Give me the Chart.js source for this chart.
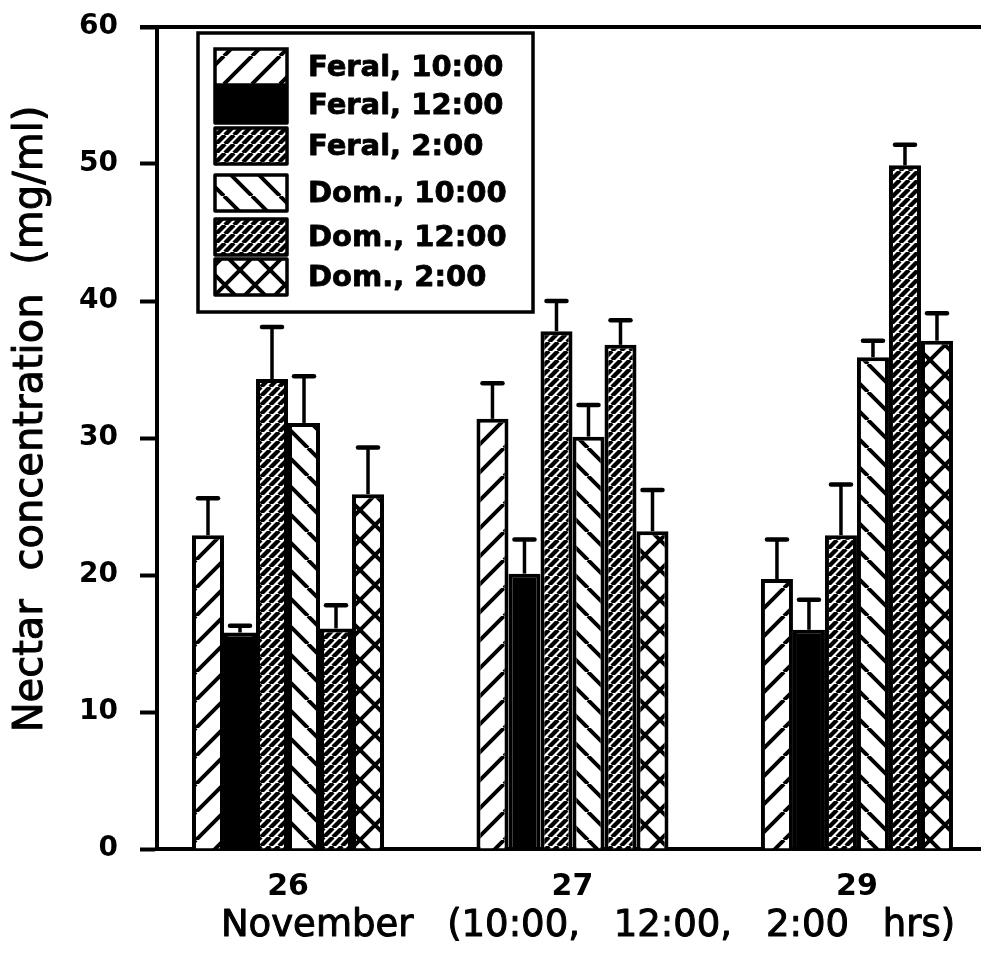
<!DOCTYPE html>
<html>
<head>
<meta charset="utf-8">
<title>Nectar concentration</title>
<script src="https://cdn.jsdelivr.net/npm/chart.js@4.4.1/dist/chart.umd.min.js"></script>
<style>
  html, body { margin: 0; padding: 0; background: #fff; overflow: hidden; }
  #wrap { width: 981px; height: 953px; position: relative; }
</style>
</head>
<body>
<div id="wrap"><canvas id="chart"></canvas></div>
<script>
// Values (mean and upper error bar length)
const dates = ['26', '27', '29'];
const seriesLabels = ['Feral, 10:00', 'Feral, 12:00', 'Feral, 2:00', 'Dom., 10:00', 'Dom., 12:00', 'Dom., 2:00'];

const feral10 = [22.9, 31.4, 19.7];
const feral12 = [15.8, 20.1, 16.0];
const feral2 = [34.3, 37.8, 22.9];
const dom10 = [31.1, 30.1, 35.9];
const dom12 = [16.1, 36.8, 49.9];
const dom2 = [25.9, 23.2, 37.1];

const feral10Err = [2.7, 2.6, 2.9];
const feral12Err = [0.5, 2.5, 2.2];
const feral2Err = [3.8, 2.2, 3.7];
const dom10Err = [3.4, 2.3, 1.2];
const dom12Err = [1.7, 1.8, 1.5];
const dom2Err = [3.4, 3.0, 2.0];

const yTicks = [0, 10, 20, 30, 40, 50, 60];

const FONT = '"DejaVu Sans", sans-serif';

// hatch fills, drawn into a small tile
function makePattern(kind) {
    if (kind === 'solid') return '#000';
    const s = kind === 'dense' ? 9 : (kind === 'cross' ? 30 : 28);
    const c = document.createElement('canvas');
    c.width = s; c.height = s;
    const ctx = c.getContext('2d');
    ctx.fillStyle = '#fff';
    ctx.fillRect(0, 0, s, s);
    ctx.strokeStyle = '#000';
    ctx.lineWidth = kind === 'dense' ? 4.3 : 4;
    const fwd = kind === 'fwd' || kind === 'dense' || kind === 'cross';
    const back = kind === 'back' || kind === 'cross';
    ctx.beginPath();
    for (let k = -1; k <= 1; k++) {
        if (fwd) { ctx.moveTo(k * s, s); ctx.lineTo(k * s + s, 0); }
        if (back) { ctx.moveTo(k * s, 0); ctx.lineTo(k * s + s, s); }
    }
    ctx.stroke();
    return ctx.createPattern(c, 'repeat');
}

const series = [feral10, feral12, feral2, dom10, dom12, dom2];
const errors = [feral10Err, feral12Err, feral2Err, dom10Err, dom12Err, dom2Err];
const fills = ['fwd', 'solid', 'dense', 'back', 'dense', 'cross'].map(makePattern);

const datasets = series.map((vals, i) => ({
    label: seriesLabels[i],
    data: vals.map((v, j) => ({ x: j, y: v })),
    errors: errors[i],
    backgroundColor: fills[i],
    borderColor: '#000',
    borderWidth: 4,
    categoryPercentage: 0.675,
    barPercentage: 1.0
}));

// upper error bars with caps
const errorBars = {
    id: 'errorBars',
    afterDatasetsDraw(chart) {
        const ctx = chart.ctx;
        const y = chart.scales.y;
        ctx.save();
        ctx.strokeStyle = '#000';
        chart.data.datasets.forEach((ds, i) => {
            const meta = chart.getDatasetMeta(i);
            meta.data.forEach((bar, j) => {
                const top = y.getPixelForValue(ds.data[j].y + ds.errors[j]);
                ctx.lineWidth = 3.5;
                ctx.beginPath();
                ctx.moveTo(bar.x, bar.y);
                ctx.lineTo(bar.x, top);
                ctx.stroke();
                ctx.lineWidth = 4.5;
                ctx.lineCap = 'round';
                ctx.beginPath();
                ctx.moveTo(bar.x - 10, top);
                ctx.lineTo(bar.x + 10, top);
                ctx.stroke();
                ctx.lineCap = 'butt';
            });
        });
        ctx.restore();
    }
};

// text drawn with a thin outline so it reads as heavy as the scan
function heavyText(ctx, text, x, y, w) {
    ctx.lineWidth = w;
    ctx.lineJoin = 'round';
    ctx.strokeText(text, x, y);
    ctx.fillText(text, x, y);
}

// boxed legend inside the plot, top frame line and axis titles
const frame = {
    id: 'frame',
    afterDraw(chart) {
        const ctx = chart.ctx;
        const area = chart.chartArea;
        ctx.save();
        ctx.strokeStyle = '#000';
        ctx.fillStyle = '#000';

        ctx.lineWidth = 4;
        ctx.beginPath();
        ctx.moveTo(area.left - 17, area.top);
        ctx.lineTo(chart.width, area.top);
        ctx.stroke();

        // legend
        ctx.lineWidth = 3.5;
        ctx.strokeRect(198, 33, 335, 279);
        const rows = [67, 105, 146, 193, 237, 277];
        ctx.font = 'bold 29px ' + FONT;
        ctx.textBaseline = 'middle';
        ctx.textAlign = 'left';
        chart.data.datasets.forEach((ds, i) => {
            ctx.fillStyle = ds.backgroundColor;
            ctx.fillRect(215, rows[i] - 18, 72, 36);
            ctx.lineWidth = 3.5;
            ctx.strokeRect(215, rows[i] - 18, 72, 36);
            ctx.fillStyle = '#000';
            heavyText(ctx, ds.label, 308, rows[i] + 1, 0.8);
        });

        // axis titles
        ctx.textAlign = 'center';
        ctx.textBaseline = 'middle';
        ctx.font = '40px ' + FONT;
        if ('wordSpacing' in ctx) ctx.wordSpacing = '16px';
        ctx.save();
        ctx.translate(32, 419);
        ctx.rotate(-Math.PI / 2);
        heavyText(ctx, 'Nectar concentration (mg/ml)', 0, 0, 1.0);
        ctx.restore();

        ctx.font = '37px ' + FONT;
        if ('wordSpacing' in ctx) ctx.wordSpacing = '22px';
        heavyText(ctx, 'November (10:00, 12:00, 2:00 hrs)', 588, 926, 1.0);
        ctx.restore();
    }
};

new Chart(document.getElementById('chart'), {
    type: 'bar',
    data: { datasets },
    options: {
        responsive: true,
        maintainAspectRatio: false,
        animation: false,
        layout: { padding: { top: 27, left: 0, right: 0, bottom: 0 } },
        plugins: {
            legend: { display: false },
            tooltip: { enabled: false }
        },
        scales: {
            x: {
                type: 'linear',
                offset: false,
                min: -0.4605,
                max: 2.436,
                afterFit(scale) { scale.height = 104; },
                border: { display: true, width: 4, color: '#000' },
                grid: { display: false },
                ticks: {
                    stepSize: 1,
                    includeBounds: false,
                    padding: 12,
                    color: '#000',
                    font: { family: FONT, size: 30, weight: 'bold' },
                    callback: (v) => dates[v] !== undefined ? dates[v] : ''
                }
            },
            y: {
                min: 0,
                max: 60,
                afterFit(scale) {
                    scale.width = 157;
                    scale.paddingTop = 0;
                    scale.paddingBottom = 0;
                },
                afterBuildTicks(scale) { scale.ticks = yTicks.map(v => ({ value: v })); },
                border: { display: true, width: 4, color: '#000' },
                grid: {
                    drawOnChartArea: false,
                    drawTicks: true,
                    tickLength: 17,
                    tickWidth: 4,
                    tickColor: '#000'
                },
                ticks: {
                    padding: 22,
                    color: '#000',
                    font: { family: FONT, size: 28, weight: 'bold' }
                }
            }
        }
    },
    plugins: [errorBars, frame]
});
</script>
</body>
</html>
